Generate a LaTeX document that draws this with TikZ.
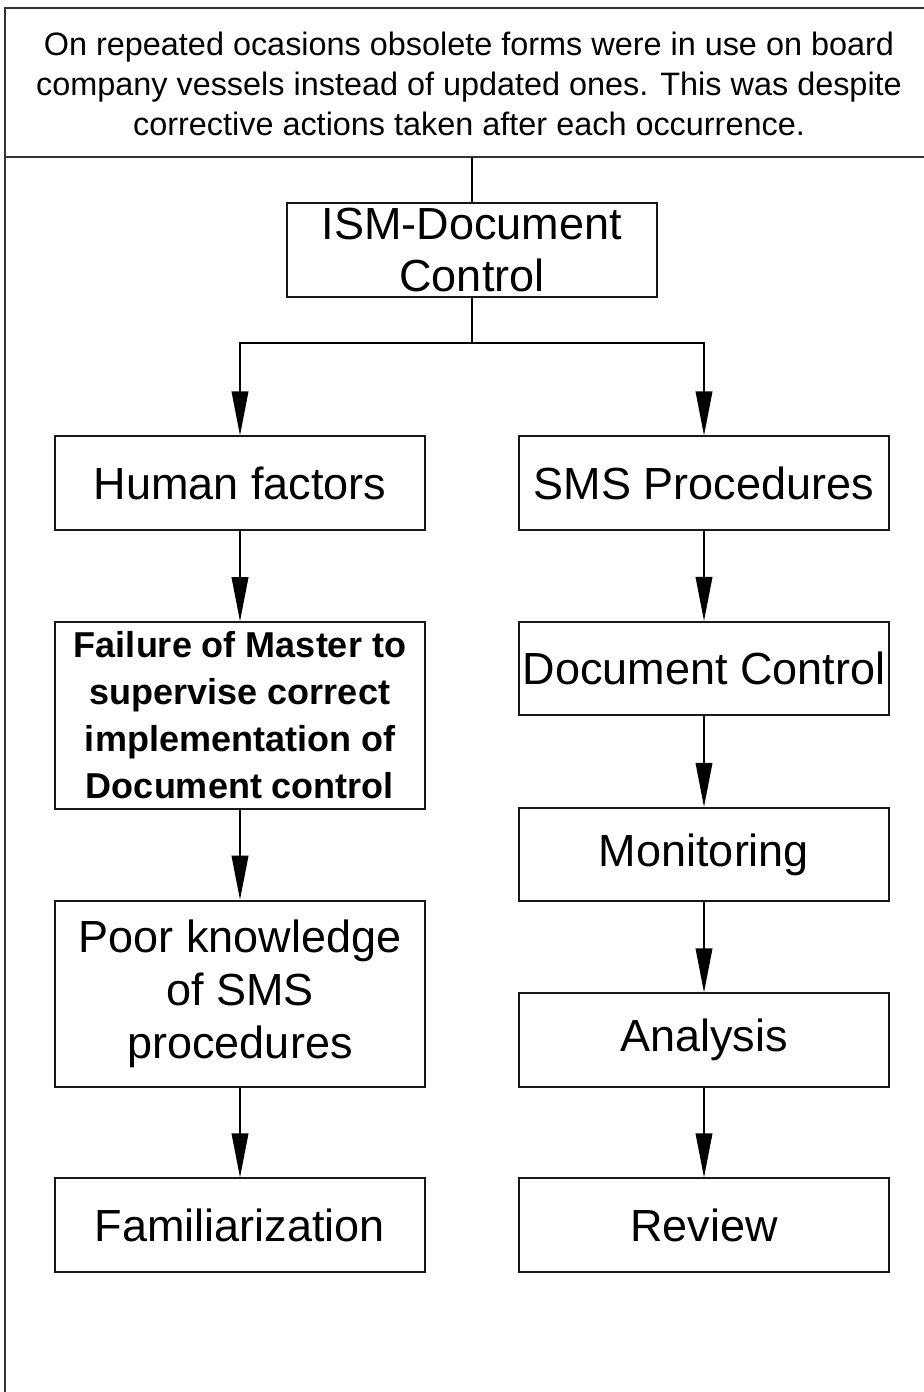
\documentclass[tikz,border=0pt]{standalone}
\usepackage{fontspec}
\setmainfont{Liberation Sans}
\usetikzlibrary{arrows.meta}
\begin{document}
\begin{tikzpicture}[x=0.75pt,y=-0.75pt,
  frame/.style={draw=black!80, line width=1.6pt},
  box/.style={draw=black!90, line width=1.4pt, inner sep=0pt,
    minimum width=277.5pt, minimum height=70pt},
  tallbox/.style={box, minimum height=140pt},
  bigtext/.style={align=center, inner sep=0pt,
    font={\fontsize{33.75}{39.5}\selectfont}},
  boldtext/.style={align=center, inner sep=0pt,
    font={\fontsize{27}{35.2}\selectfont\bfseries}},
  introtext/.style={align=center, inner sep=0pt,
    font={\fontsize{24.3}{30}\selectfont}},
  conn/.style={draw=black, line width=1.1pt},
  arr/.style={conn, -{Triangle[length=33pt, width=12.5pt]}}
]
% page and outer frame
\useasboundingbox (0,0) rectangle (924,1392);
\fill[white] (0,0) rectangle (924,1392);
\draw[frame] (924,8) -- (5,8) -- (5,1392);
\draw[frame] (5,157) -- (924,157);

% problem statement
\node[introtext] (intro) at (469,84)
  {On repeated ocasions obsolete forms were in use on board\\
   company vessels instead of updated ones. This was despite\\
   corrective actions taken after each occurrence.};

% boxes
\node[box] (ism) at (472,250) {};
\node[bigtext] at (ism) {ISM-Document\\Control};

\node[box] (hf)   at (240,483) {};
\node[box] (sms)  at (704,483) {};
\node[tallbox] (fail) at (240,715.5) {};
\node[tallbox] (poor) at (240,994) {};
\node[box] (fam)  at (240,1225) {};
\node[box] (dc)   at (704,668.5) {};
\node[box] (mon)  at (704,854.5) {};
\node[box] (ana)  at (704,1040) {};
\node[box] (rev)  at (704,1225) {};

\node[bigtext] at (hf) {Human factors};
\node[bigtext] at (sms) {SMS Procedures};
\node[boldtext] at (fail) {Failure of Master to\\supervise correct\\implementation of\\Document control};
\node[bigtext] at (poor) {Poor knowledge\\of SMS\\procedures};
\node[bigtext] at (fam) {Familiarization};
\node[bigtext] at (dc) {Document Control};
\node[bigtext] at (mon) {Monitoring};
\node[bigtext] at (ana) {Analysis};
\node[bigtext] at (rev) {Review};

% connectors
\coordinate (sep) at (ism.north |- 0,157);
\coordinate (split) at (ism.south |- 0,343);
\draw[conn] (sep) -- (ism.north);
\draw[conn] (ism.south) -- (split);
\draw[arr] (split) -| (hf.north);
\draw[arr] (split) -| (sms.north);
\draw[arr] (hf) -- (fail);
\draw[arr] (fail) -- (poor);
\draw[arr] (poor) -- (fam);
\draw[arr] (sms) -- (dc);
\draw[arr] (dc) -- (mon);
\draw[arr] (mon) -- (ana);
\draw[arr] (ana) -- (rev);
\end{tikzpicture}
\end{document}
